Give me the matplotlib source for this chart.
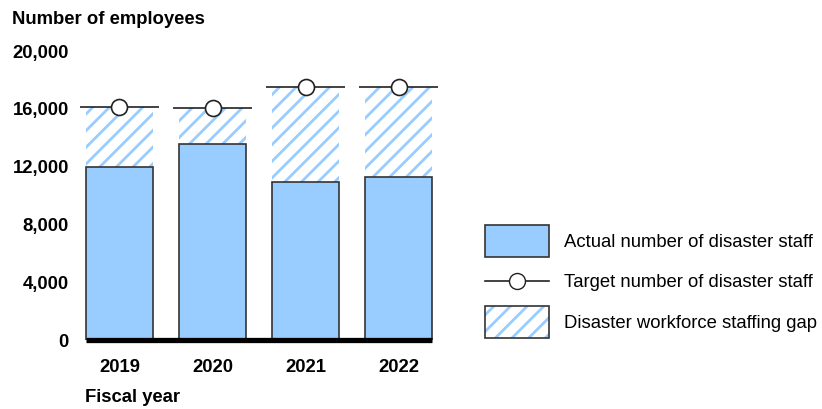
import matplotlib.pyplot as plt
from matplotlib.legend_handler import HandlerLine2D, HandlerTuple
from matplotlib.lines import Line2D
from matplotlib.patches import Patch

plt.rcParams["font.family"] = ["Liberation Sans", "DejaVu Sans"]
plt.rcParams["hatch.linewidth"] = 2.0

# data
years = ["2019", "2020", "2021", "2022"]
actual = [11950, 13530, 10920, 11250]
target = [16120, 16050, 17500, 17500]
yticks = [0, 4000, 8000, 12000, 16000, 20000]

bar_blue = "#99ccff"
hatch_blue = "#99ccff"
fs = 13.3


class CenteredLine(HandlerLine2D):
    # put the legend line in the middle of the handle box, like the patches
    def create_artists(self, legend, orig_handle, xdescent, ydescent, width, height, fontsize, trans):
        return super().create_artists(legend, orig_handle, xdescent, 2 * ydescent,
                                      width, height, fontsize, trans)


fig = plt.figure(figsize=(8.22, 4.09), dpi=100)
ax = fig.add_axes([0.0888, 0.1687, 0.4526, 0.7066])

x = list(range(len(years)))
gap = [t - a for t, a in zip(target, actual)]

ax.bar(x, gap, bottom=actual, width=0.72, color="white", edgecolor=hatch_blue,
       hatch="//", linewidth=0, zorder=1)
ax.bar(x, actual, width=0.72, color=bar_blue, edgecolor="#333333", linewidth=1.2, zorder=2)
ax.hlines(target, [i - 0.425 for i in x], [i + 0.425 for i in x], color="#222222",
          linewidth=1.2, zorder=3, clip_on=False)
ax.plot(x, target, linestyle="none", marker="o", markersize=11.5, markerfacecolor="white",
        markeredgecolor="#222222", markeredgewidth=1.2, zorder=4, clip_on=False)

# thick baseline
ax.hlines(0, -0.36, len(years) - 1 + 0.36, color="black", linewidth=3.8, zorder=5, clip_on=False)

ax.set_xlim(-0.5, len(years) - 0.5)
ax.set_ylim(0, 20000)
ax.set_yticks(yticks)
ax.set_yticklabels([f"{v:,}" for v in yticks], fontsize=fs, fontweight="bold")
ax.set_xticks(x)
ax.set_xticklabels(years, fontsize=fs, fontweight="bold")
ax.tick_params(axis="both", length=0)
ax.tick_params(axis="y", pad=3)
ax.tick_params(axis="x", pad=14)
for s in ax.spines.values():
    s.set_visible(False)

fig.text(12 / 822, 1 - 19 / 409, "Number of employees", fontsize=fs, fontweight="bold",
         ha="left", va="center")
fig.text(85 / 822, 1 - 398 / 409, "Fiscal year", fontsize=fs, fontweight="bold",
         ha="left", va="center")

target_handle = Line2D([], [], color="#222222", linewidth=1.2, marker="o", markersize=11.5,
                       markerfacecolor="white", markeredgecolor="#222222")
handles = [
    Patch(facecolor=bar_blue, edgecolor="#333333", linewidth=1.2),
    target_handle,
    (Patch(facecolor="white", edgecolor=hatch_blue, hatch="//", linewidth=0),
     Patch(facecolor="none", edgecolor="#333333", linewidth=1.2)),
]
labels = ["Actual number of disaster staff", "Target number of disaster staff",
          "Disaster workforce staffing gap"]
fig.legend(handles, labels, loc="center left", bbox_to_anchor=(485 / 822, 0.312),
           frameon=False, fontsize=fs, handlelength=3.46, handleheight=2.28,
           handletextpad=0.8, labelspacing=0.46, borderpad=0, borderaxespad=0,
           handler_map={tuple: HandlerTuple(ndivide=1, pad=0),
                        target_handle: CenteredLine()})

fig.savefig("out.png", dpi=100)
